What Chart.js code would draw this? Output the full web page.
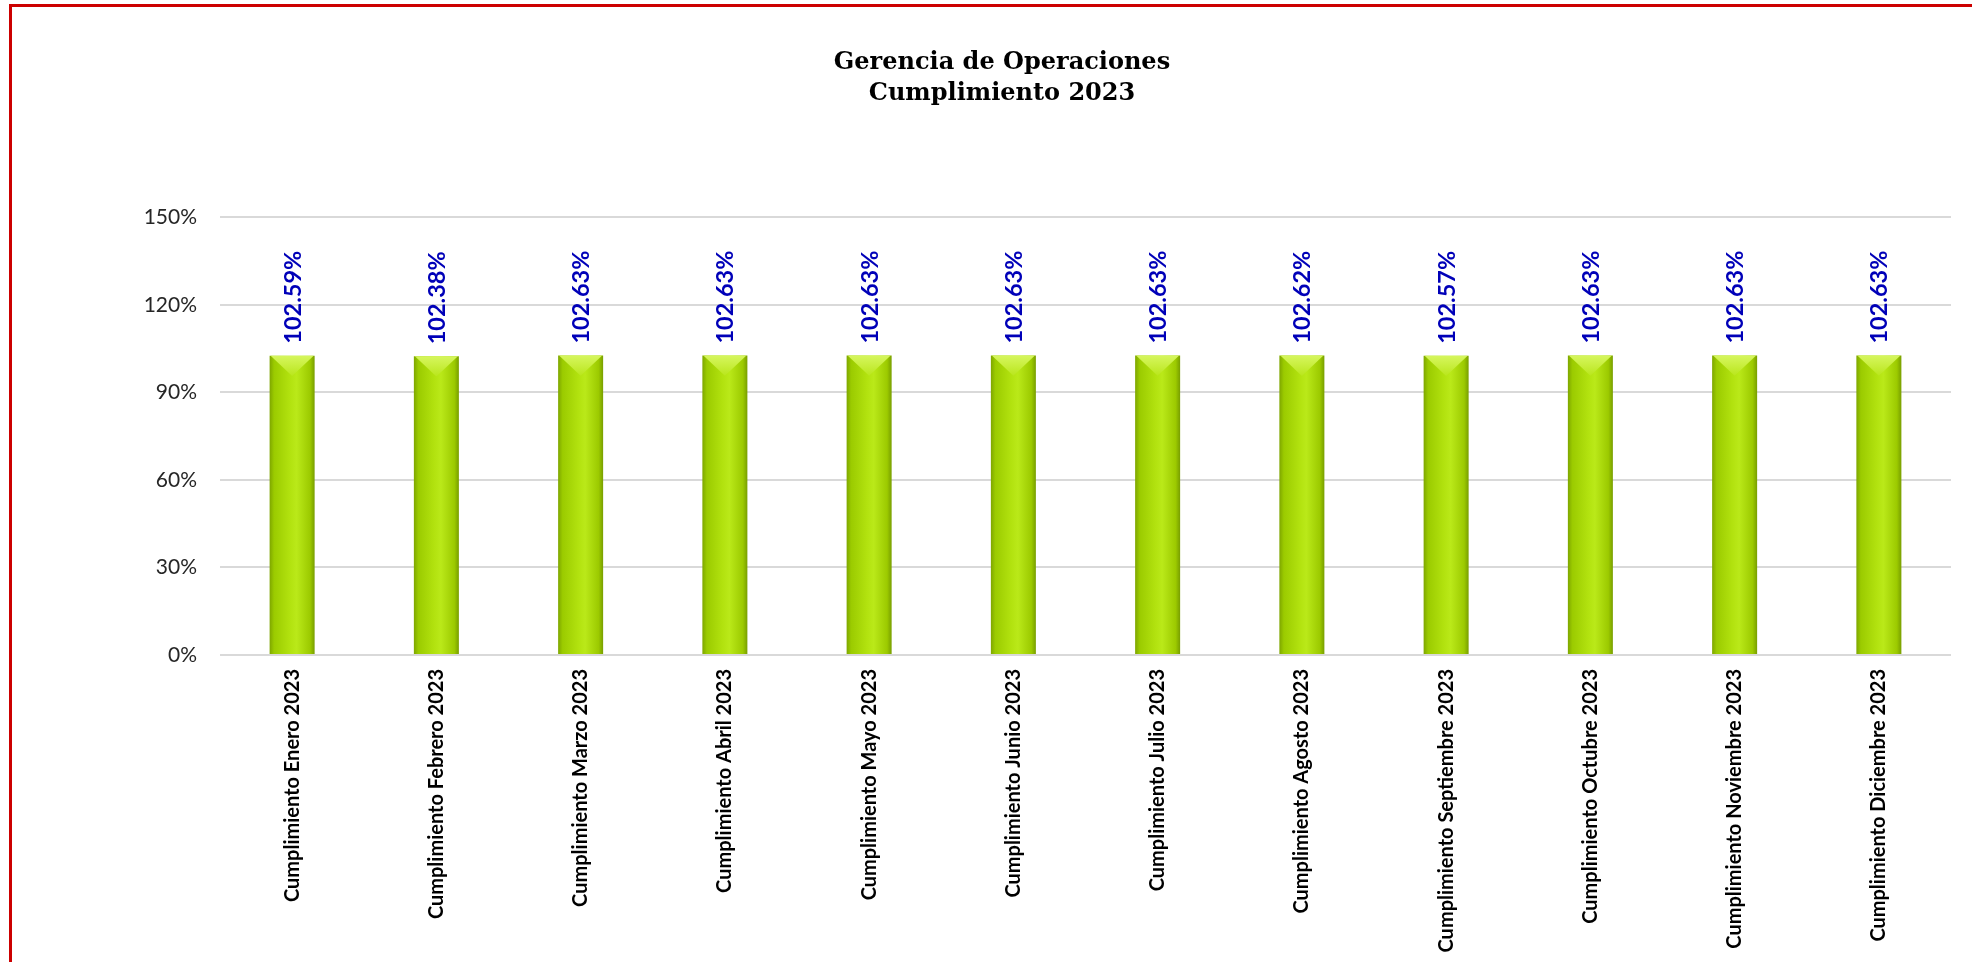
<!DOCTYPE html>
<html>
<head>
<meta charset="utf-8">
<script src="https://cdn.jsdelivr.net/npm/chart.js@4/dist/chart.umd.min.js"></script>
<style>
  html, body { margin: 0; padding: 0; background: #fff; overflow: hidden; }
  #frame {
    position: absolute; left: 9px; top: 4px; width: 2000px; height: 955px;
    border-left: 3px solid #cc0000; border-top: 3px solid #cc0000;
    border-bottom: 1px solid #d9d9d9;
  }
  #cumplimiento-chart { position: absolute; left: 0; top: 0; }
</style>
</head>
<body>
<div id="frame"></div>
<canvas id="cumplimiento-chart" width="1972" height="962"></canvas>
<script>
// Chart data
const titleLines = ['Gerencia de Operaciones', 'Cumplimiento 2023'];
const months = [
    'Cumplimiento Enero 2023', 'Cumplimiento Febrero 2023', 'Cumplimiento Marzo 2023',
    'Cumplimiento Abril 2023', 'Cumplimiento Mayo 2023', 'Cumplimiento Junio 2023',
    'Cumplimiento Julio 2023', 'Cumplimiento Agosto 2023', 'Cumplimiento Septiembre 2023',
    'Cumplimiento Octubre 2023', 'Cumplimiento Noviembre 2023', 'Cumplimiento Diciembre 2023'
];
const cumplimiento = [102.59, 102.38, 102.63, 102.63, 102.63, 102.63, 102.63, 102.62, 102.57, 102.63, 102.63, 102.63];
const yMin = 0;
const yMax = 150;
const yStep = 30;

// Horizontal gradient per bar, so it looks like the Excel bevel bars
const barGradient = (context) => {
    const chart = context.chart;
    const xScale = chart.scales.x;
    if (!chart.chartArea || !xScale) return '#a8d800';
    const cx = xScale.getPixelForValue(context.dataIndex);
    const half = xScale.width / months.length * 0.312 / 2;
    const g = chart.ctx.createLinearGradient(cx - half, 0, cx + half, 0);
    g.addColorStop(0, '#7ea600');
    g.addColorStop(0.1, '#9bcb00');
    g.addColorStop(0.45, '#b2e20f');
    g.addColorStop(0.6, '#bae919');
    g.addColorStop(0.9, '#9cca00');
    g.addColorStop(1, '#789e00');
    return g;
};

// Top bevel + value labels drawn over the bars
const bevelAndLabels = {
    id: 'bevelAndLabels',
    afterDatasetsDraw(chart) {
        const ctx = chart.ctx;
        const meta = chart.getDatasetMeta(0);
        meta.data.forEach((bar, i) => {
            const w = bar.width;
            const left = bar.x - w / 2;
            const right = bar.x + w / 2;
            const top = bar.y;

            // light triangle on the top face
            ctx.save();
            const tg = ctx.createLinearGradient(0, top, 0, top + w * 0.45);
            tg.addColorStop(0, '#d6f65e');
            tg.addColorStop(1, '#b9e61c');
            ctx.fillStyle = tg;
            ctx.beginPath();
            ctx.moveTo(left + 1, top);
            ctx.lineTo(right - 1, top);
            ctx.lineTo(bar.x, top + w * 0.45);
            ctx.closePath();
            ctx.fill();
            ctx.restore();

            // rotated value label
            ctx.save();
            ctx.translate(bar.x + 1, top - 12);
            ctx.rotate(-Math.PI / 2);
            ctx.font = 'bold 23.5px Lato';
            ctx.fillStyle = '#0000b8';
            ctx.textAlign = 'left';
            ctx.textBaseline = 'middle';
            ctx.fillText(cumplimiento[i].toFixed(2) + '%', 0, 0);
            ctx.restore();
        });
    }
};

const ctx = document.getElementById('cumplimiento-chart').getContext('2d');
const cumplimientoChart = new Chart(ctx, {
    type: 'bar',
    data: {
        labels: months,
        datasets: [{
            label: 'Cumplimiento',
            data: cumplimiento,
            backgroundColor: barGradient,
            borderWidth: 0,
            categoryPercentage: 1,
            barPercentage: 0.312,
        }],
    },
    options: {
        responsive: false,
        animation: false,
        layout: {
            padding: { left: 53, right: 21, top: 0, bottom: 0 },
        },
        plugins: {
            legend: { display: false },
            tooltip: { enabled: false },
            title: {
                display: true,
                text: titleLines,
                color: '#000',
                font: { family: 'DejaVu Serif', size: 24, weight: 'bold', lineHeight: 1.3 },
                padding: { top: 47, bottom: 108 },
            },
        },
        scales: {
            x: {
                grid: { display: false, drawTicks: false },
                border: { display: false },
                ticks: {
                    autoSkip: false,
                    minRotation: 90,
                    maxRotation: 90,
                    padding: 14,
                    color: '#000',
                    font: { family: 'Lato', size: 20, weight: 'bold' },
                },
                afterFit: (scale) => { scale.height = 307; },
            },
            y: {
                min: yMin,
                max: yMax,
                grid: { color: '#d9d9d9', lineWidth: 2, drawTicks: false },
                border: { display: false },
                ticks: {
                    stepSize: yStep,
                    padding: 23,
                    color: '#262626',
                    font: { family: 'Lato', size: 21 },
                    callback: (v) => v + '%',
                },
                afterFit: (scale) => { scale.width = 167; },
            },
        },
    },
    plugins: [bevelAndLabels],
});
</script>
</body>
</html>
